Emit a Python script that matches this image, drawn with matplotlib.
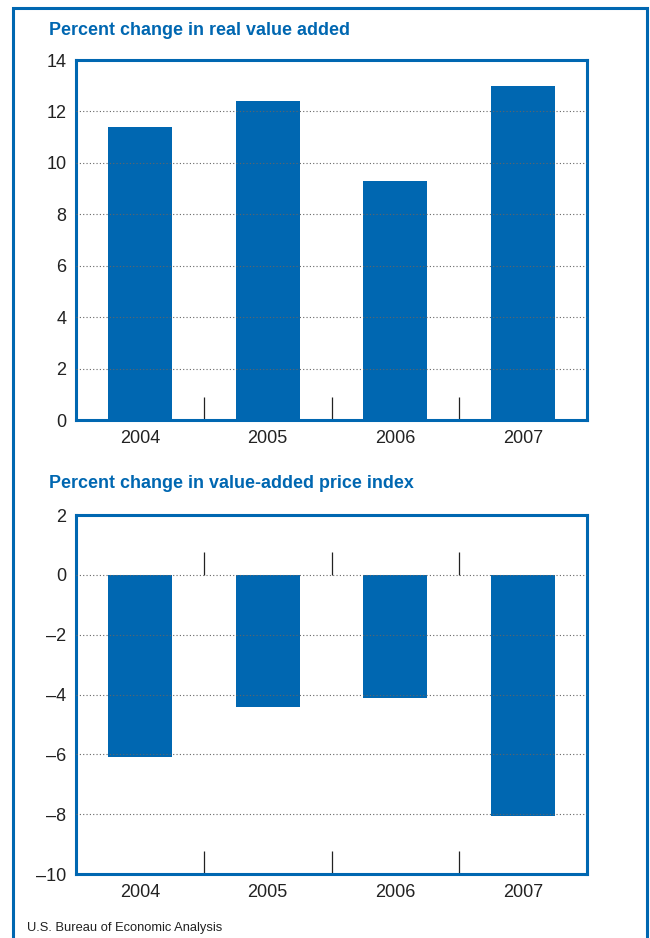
import matplotlib.pyplot as plt
from matplotlib.patches import Rectangle

plt.rcParams['font.family'] = ['Liberation Sans', 'DejaVu Sans']

years = ['2004', '2005', '2006', '2007']
real_value_added = [11.4, 12.4, 9.3, 13.0]
price_index = [-6.1, -4.4, -4.1, -8.05]

blue = '#0067b1'
sep = [-0.5, 0.5, 1.5, 2.5]

fig = plt.figure(figsize=(6.5, 9.38), dpi=100)

# outer frame round the whole panel
fig.patches.append(Rectangle((0.02, -0.02), 0.9754, 1.0115, transform=fig.transFigure,
                             fill=False, edgecolor=blue, linewidth=2.2))

ax1 = fig.add_axes([0.1169, 0.5522, 0.7862, 0.3838])
ax2 = fig.add_axes([0.1169, 0.0682, 0.7862, 0.3827])


def style(ax, ylim, yticks):
    ax.set_xlim(-0.5, 3.5)
    ax.set_ylim(*ylim)
    ax.set_yticks(yticks)
    ax.set_yticklabels([str(t).replace('-', '\u2013') for t in yticks])
    ax.set_xticks(range(len(years)))
    ax.set_xticklabels(years)
    ax.set_xticks(sep, minor=True)
    ax.tick_params(axis='x', which='major', length=0, pad=7.5, labelsize=13, colors='#222222')
    ax.tick_params(axis='x', which='minor', direction='in', length=16.5, width=0.9, color='#222222')
    ax.tick_params(axis='y', length=0, pad=7, labelsize=13, colors='#222222')
    for s in ax.spines.values():
        s.set_color(blue)
        s.set_linewidth(2.2)
    for t in yticks[1:-1]:
        ax.axhline(t, color='#666666', linestyle=(0, (1, 2)), linewidth=0.8, zorder=3)


ax1.bar(range(len(years)), real_value_added, width=0.5, color=blue, zorder=2)
style(ax1, (0, 14), [0, 2, 4, 6, 8, 10, 12, 14])

ax2.bar(range(len(years)), price_index, width=0.5, color=blue, zorder=2)
style(ax2, (-10, 2), [-10, -8, -6, -4, -2, 0, 2])
# little separators standing on the zero line
ax2.vlines(sep[1:], 0, 0.77, color='#222222', linewidth=0.9, zorder=4)

fig.text(0.0754, 0.968, 'Percent change in real value added', color=blue,
         fontsize=12.9, fontweight='bold', va='center')
fig.text(0.0754, 0.485, 'Percent change in value-added price index', color=blue,
         fontsize=12.9, fontweight='bold', va='center')
fig.text(0.0415, 0.0107, 'U.S. Bureau of Economic Analysis', color='#222222',
         fontsize=9.3, va='center')

fig.savefig('out.png', dpi=100)
